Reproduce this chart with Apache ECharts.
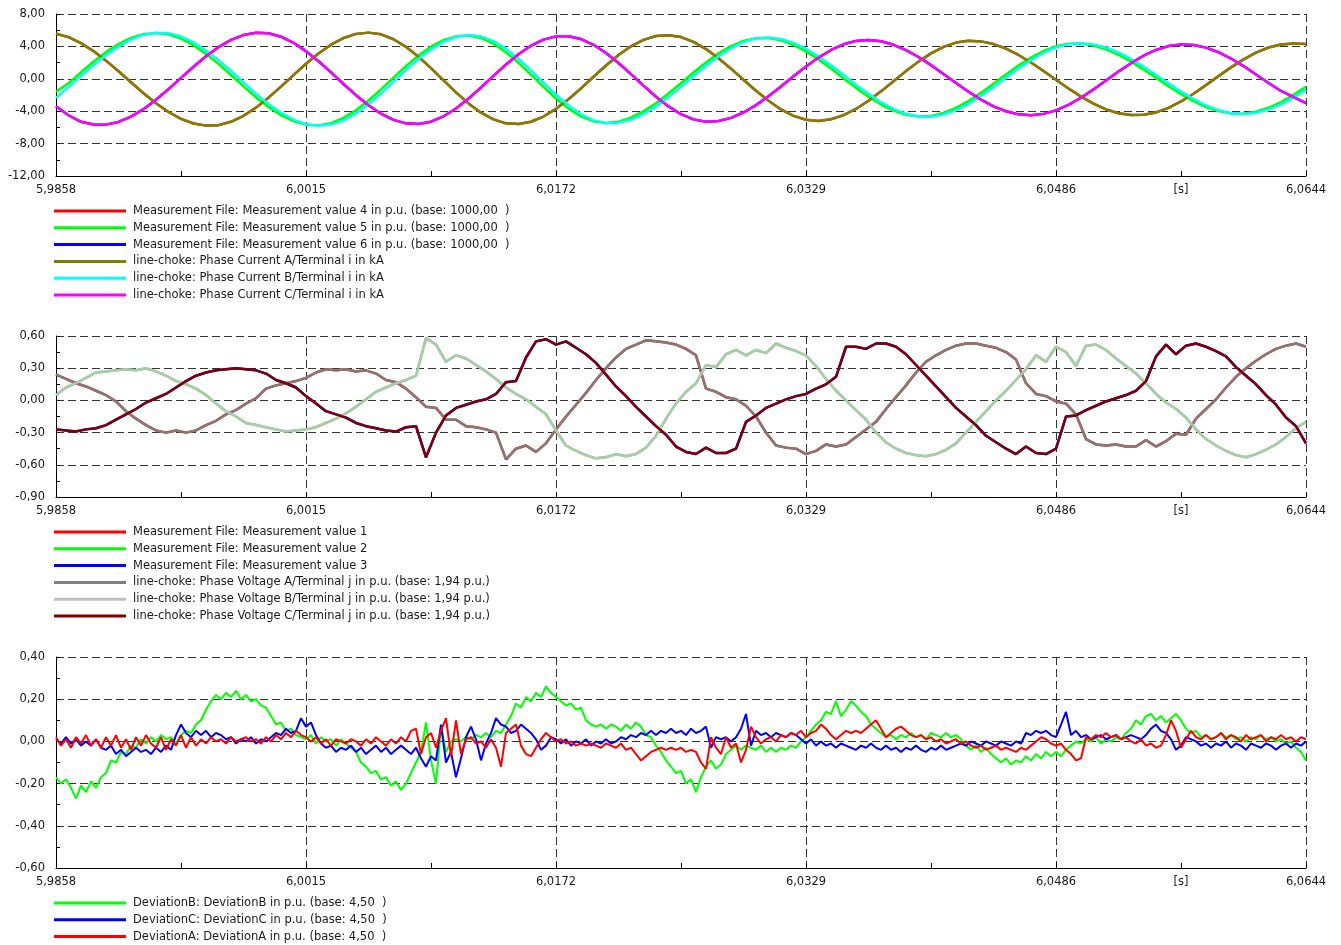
<!DOCTYPE html>
<html><head><meta charset="utf-8">
<script src="https://cdn.jsdelivr.net/npm/echarts@6/dist/echarts.min.js"></script>
<style>html,body{margin:0;padding:0;background:#fff}#c{width:1341px;height:945px}</style>
</head><body><div id="c"></div>
<script>
// ---------- tick labels ----------
const xTickLabels = ['5,9858','6,0015','6,0172','6,0329','6,0486','6,0644'];
const xUnitLabel = '[s]';

// ---------- top chart: currents (101 samples across the time span) ----------
const curA = [5.57,5.14,4.40,3.42,2.24,0.93,-0.43,-1.78,-3.01,-4.10,-4.95,-5.52,-5.78,-5.72,-5.31,-4.57,-3.56,-2.33,-0.96,0.46,
1.86,3.13,4.21,5.03,5.54,5.70,5.49,4.88,3.94,2.72,1.31,-0.19,-1.68,-3.04,-4.18,-5.01,-5.50,-5.59,-5.30,-4.66,
-3.71,-2.53,-1.18,0.25,1.64,2.93,4.01,4.81,5.28,5.39,5.15,4.56,3.67,2.54,1.25,-0.12,-1.47,-2.72,-3.78,-4.58,
-5.06,-5.20,-4.99,-4.49,-3.72,-2.71,-1.55,-0.30,0.95,2.12,3.14,3.94,4.47,4.69,4.62,4.29,3.72,2.94,2.01,0.97,
-0.12,-1.20,-2.20,-3.07,-3.77,-4.25,-4.48,-4.45,-4.15,-3.58,-2.80,-1.85,-0.78,0.33,1.41,2.40,3.24,3.86,4.24,4.35,4.30];
const curB = [-2.34,-1.03,0.33,1.68,2.92,3.98,4.85,5.42,5.68,5.62,5.22,4.50,3.50,2.31,0.96,-0.44,-1.83,-3.10,-4.19,-5.04,
-5.59,-5.80,-5.65,-5.13,-4.28,-3.15,-1.82,-0.37,1.08,2.45,3.64,4.56,5.16,5.40,5.24,4.66,3.72,2.47,1.05,-0.48,
-1.97,-3.30,-4.38,-5.13,-5.48,-5.43,-5.04,-4.35,-3.41,-2.26,-1.00,0.32,1.61,2.79,3.78,4.53,4.97,5.10,4.91,4.44,
3.71,2.77,1.67,0.49,-0.72,-1.86,-2.89,-3.72,-4.32,-4.65,-4.68,-4.41,-3.87,-3.09,-2.12,-1.03,0.13,1.27,2.31,3.19,
3.87,4.28,4.40,4.25,3.86,3.25,2.45,1.51,0.49,-0.56,-1.58,-2.50,-3.28,-3.87,-4.23,-4.35,-4.20,-3.80,-3.16,-2.32,-1.35];
const curC = [-3.40,-4.50,-5.31,-5.65,-5.66,-5.33,-4.67,-3.75,-2.59,-1.28,0.11,1.49,2.79,3.91,4.80,5.40,5.68,5.62,5.20,4.45,
3.42,2.17,0.79,-0.64,-2.02,-3.27,-4.31,-5.07,-5.50,-5.58,-5.29,-4.63,-3.66,-2.44,-1.07,0.37,1.77,3.04,4.09,4.84,
5.24,5.26,4.91,4.20,3.19,1.95,0.57,-0.85,-2.21,-3.41,-4.37,-5.01,-5.29,-5.21,-4.82,-4.16,-3.25,-2.16,-0.95,0.31,
1.52,2.62,3.56,4.26,4.68,4.80,4.63,4.20,3.54,2.69,1.69,0.60,-0.52,-1.60,-2.57,-3.40,-4.01,-4.39,-4.50,-4.33,
-3.90,-3.22,-2.34,-1.31,-0.21,0.90,1.93,2.85,3.56,4.04,4.25,4.18,3.85,3.28,2.50,1.57,0.54,-0.52,-1.50,-2.25,-3.00];
const meas4 = curA;
const meas5 = [-1.60,-0.55,0.80,2.11,3.29,4.28,5.05,5.51,5.66,5.48,4.97,4.15,3.08,1.84,0.47,-0.93,-2.27,-3.48,-4.49,-5.23,
-5.66,-5.75,-5.47,-4.83,-3.88,-2.68,-1.31,0.14,1.56,2.87,3.96,4.77,5.24,5.34,5.04,4.33,3.28,1.97,0.51,-1.00,
-2.44,-3.68,-4.64,-5.25,-5.46,-5.29,-4.80,-4.02,-3.01,-1.82,-0.54,0.77,2.02,3.14,4.04,4.68,5.02,5.03,4.75,4.18,
3.38,2.39,1.26,0.07,-1.12,-2.22,-3.18,-3.93,-4.44,-4.66,-4.59,-4.22,-3.60,-2.75,-1.74,-0.62,0.53,1.63,2.62,3.43,
4.01,4.32,4.35,4.11,3.65,2.97,2.12,1.15,0.12,-0.92,-1.90,-2.77,-3.49,-3.98,-4.27,-4.30,-4.06,-3.58,-2.87,-1.98,-1.00];
const meas6 = curC;

// ---------- middle chart: voltages (126 samples) ----------
const volA = [0.24,0.20,0.16,0.13,0.09,0.05,-0.01,-0.10,-0.17,-0.23,-0.28,-0.30,-0.28,-0.30,-0.28,-0.23,-0.19,-0.13,-0.09,-0.03,0.02,0.11,0.14,0.16,0.18,0.21,0.26,0.29,0.28,0.29,0.27,0.28,0.25,0.19,0.17,0.11,0.03,-0.06,-0.07,-0.18,-0.18,-0.24,-0.25,-0.27,-0.30,-0.55,-0.45,-0.42,-0.48,-0.40,-0.27,-0.15,-0.04,0.07,0.19,0.30,0.40,0.48,0.52,0.56,0.55,0.54,0.52,0.48,0.42,0.11,0.08,0.03,0.01,-0.05,-0.15,-0.30,-0.42,-0.44,-0.45,-0.50,-0.47,-0.41,-0.43,-0.41,-0.34,-0.27,-0.20,-0.08,0.03,0.14,0.26,0.36,0.42,0.47,0.51,0.53,0.53,0.51,0.49,0.45,0.38,0.16,0.06,0.04,-0.01,-0.03,-0.13,-0.36,-0.41,-0.42,-0.41,-0.43,-0.43,-0.37,-0.43,-0.38,-0.31,-0.32,-0.17,-0.08,0.01,0.12,0.22,0.30,0.37,0.43,0.48,0.51,0.53,0.50];
const volB = [0.05,0.12,0.16,0.21,0.26,0.27,0.28,0.29,0.28,0.30,0.27,0.23,0.18,0.15,0.11,0.05,-0.03,-0.10,-0.15,-0.21,-0.23,-0.25,-0.27,-0.29,-0.28,-0.27,-0.25,-0.21,-0.17,-0.12,-0.06,0.01,0.08,0.12,0.16,0.19,0.23,0.58,0.52,0.36,0.42,0.39,0.33,0.27,0.20,0.12,0.06,0.01,-0.06,-0.13,-0.28,-0.42,-0.47,-0.51,-0.54,-0.53,-0.50,-0.52,-0.50,-0.44,-0.33,-0.17,-0.03,0.08,0.16,0.33,0.31,0.43,0.47,0.42,0.47,0.44,0.53,0.49,0.46,0.42,0.32,0.20,0.09,0.00,-0.09,-0.18,-0.30,-0.39,-0.45,-0.49,-0.51,-0.52,-0.50,-0.46,-0.40,-0.30,-0.20,-0.10,0.00,0.09,0.19,0.29,0.42,0.36,0.50,0.45,0.32,0.51,0.52,0.47,0.39,0.32,0.25,0.16,0.06,-0.02,-0.08,-0.16,-0.27,-0.36,-0.42,-0.47,-0.51,-0.53,-0.50,-0.46,-0.41,-0.34,-0.26,-0.20];
const volC = [-0.27,-0.28,-0.29,-0.27,-0.26,-0.23,-0.18,-0.13,-0.08,-0.02,0.02,0.06,0.12,0.18,0.23,0.26,0.28,0.29,0.30,0.29,0.28,0.25,0.19,0.16,0.12,0.04,-0.03,-0.10,-0.13,-0.16,-0.21,-0.24,-0.26,-0.28,-0.29,-0.25,-0.24,-0.53,-0.30,-0.14,-0.07,-0.04,-0.01,0.01,0.06,0.17,0.18,0.40,0.55,0.57,0.52,0.55,0.49,0.43,0.35,0.24,0.13,0.04,-0.06,-0.15,-0.24,-0.32,-0.43,-0.48,-0.50,-0.44,-0.49,-0.49,-0.45,-0.20,-0.14,-0.07,-0.03,0.01,0.04,0.06,0.11,0.15,0.22,0.50,0.50,0.48,0.53,0.53,0.50,0.43,0.33,0.23,0.13,0.03,-0.07,-0.15,-0.23,-0.33,-0.39,-0.45,-0.50,-0.43,-0.49,-0.50,-0.45,-0.15,-0.14,-0.09,-0.05,-0.01,0.02,0.05,0.09,0.18,0.41,0.52,0.43,0.51,0.53,0.50,0.46,0.41,0.31,0.23,0.15,0.05,-0.04,-0.16,-0.24,-0.40];
const meas1 = volA, meas2 = volB, meas3 = volC;

// ---------- bottom chart: deviations (251 samples) ----------
const devB = [-0.17,-0.20,-0.18,-0.22,-0.27,-0.21,-0.24,-0.19,-0.22,-0.17,
-0.15,-0.09,-0.10,-0.05,-0.06,-0.02,-0.03,0.01,-0.01,0.02,
0.00,0.03,0.01,0.02,-0.01,0.03,0.05,0.04,0.08,0.10,
0.15,0.19,0.22,0.20,0.23,0.21,0.24,0.20,0.22,0.19,
0.20,0.17,0.16,0.12,0.08,0.09,0.05,0.06,0.03,0.02,
0.01,0.03,-0.01,0.02,0.00,0.01,-0.02,0.01,-0.01,-0.03,
-0.05,-0.10,-0.12,-0.15,-0.14,-0.18,-0.17,-0.21,-0.19,-0.23,
-0.20,-0.15,-0.10,-0.05,0.09,-0.09,-0.20,0.07,-0.05,0.00,
0.01,0.00,0.02,0.01,0.03,0.02,0.04,0.02,0.05,0.04,
0.08,0.12,0.18,0.16,0.21,0.19,0.23,0.21,0.26,0.23,
0.21,0.19,0.17,0.18,0.15,0.16,0.10,0.08,0.07,0.08,
0.06,0.08,0.07,0.05,0.08,0.06,0.09,0.07,0.03,0.02,
-0.02,-0.05,-0.09,-0.12,-0.15,-0.14,-0.20,-0.18,-0.24,-0.17,
-0.12,-0.09,-0.13,-0.11,-0.06,-0.04,-0.02,-0.04,-0.02,-0.03,
-0.04,-0.02,-0.05,-0.03,-0.05,-0.03,-0.04,-0.02,-0.03,0.00,
0.02,0.05,0.08,0.10,0.14,0.13,0.19,0.12,0.15,0.19,
0.17,0.14,0.12,0.08,0.06,0.04,0.02,0.03,0.01,0.03,
0.02,0.04,0.02,0.03,0.01,0.04,0.03,0.02,0.04,0.02,
0.03,0.01,-0.02,-0.04,-0.02,-0.05,-0.03,-0.06,-0.08,-0.10,
-0.08,-0.11,-0.09,-0.10,-0.07,-0.09,-0.06,-0.08,-0.05,-0.07,
-0.05,-0.07,-0.04,-0.02,0.00,-0.01,0.01,0.00,0.02,-0.01,
0.01,0.00,0.02,0.01,0.04,0.06,0.10,0.08,0.12,0.13,
0.10,0.12,0.09,0.11,0.13,0.10,0.06,0.04,0.05,0.02,
0.03,0.01,0.02,0.04,0.02,0.03,0.01,0.02,0.00,0.02,
0.01,0.03,0.01,0.02,0.00,0.01,-0.01,0.00,-0.03,-0.05,
-0.09];
const devC = [0.01,-0.01,0.02,-0.01,0.01,-0.02,0.00,-0.02,0.01,-0.03,
-0.04,-0.02,-0.06,-0.04,-0.07,-0.05,-0.03,-0.05,-0.04,-0.06,
-0.03,-0.05,-0.02,-0.04,0.03,0.08,0.04,0.02,0.05,0.03,
0.05,0.02,0.04,0.03,0.01,0.02,-0.01,0.01,0.00,0.02,
-0.01,0.01,0.00,0.02,0.04,0.03,0.06,0.04,0.05,0.11,
0.07,0.09,0.03,-0.01,-0.03,-0.02,-0.05,-0.03,-0.04,-0.02,
-0.05,-0.03,-0.06,-0.04,-0.02,-0.05,-0.03,-0.06,-0.04,-0.02,
-0.04,-0.06,-0.03,-0.08,-0.12,-0.07,-0.09,0.08,-0.10,-0.05,
-0.17,-0.08,0.02,0.07,0.01,-0.09,-0.01,0.04,0.11,0.08,
0.07,0.04,0.05,0.08,0.06,0.04,0.01,-0.04,-0.02,0.02,
0.01,-0.01,0.01,-0.02,0.00,-0.01,0.01,-0.02,0.00,-0.01,
0.01,-0.01,0.00,0.02,0.01,0.03,0.02,0.04,0.03,0.05,
0.03,0.05,0.04,0.06,0.04,0.05,0.03,0.06,0.04,0.05,
0.07,-0.03,0.02,0.01,0.02,0.00,0.02,0.06,0.13,-0.02,
0.05,0.03,0.04,0.02,0.04,0.03,0.02,0.04,0.03,0.01,
-0.01,0.01,-0.02,0.00,-0.02,-0.01,-0.03,-0.01,-0.02,-0.03,
-0.04,-0.02,-0.03,-0.01,-0.03,-0.04,-0.02,-0.04,-0.03,-0.05,
-0.03,-0.04,-0.02,-0.04,-0.05,-0.03,-0.04,-0.02,-0.04,-0.03,
-0.02,-0.01,-0.02,0.00,-0.01,-0.02,0.00,-0.01,-0.02,0.00,
-0.01,-0.02,0.00,-0.01,0.04,0.03,0.05,0.04,0.05,0.03,
0.02,0.08,0.14,0.03,0.05,0.02,0.03,0.01,0.02,0.03,
0.01,0.02,0.03,0.01,0.02,0.03,0.02,0.01,0.03,0.06,
0.08,0.05,0.04,0.01,-0.04,-0.02,0.02,0.01,0.00,-0.02,
-0.01,-0.03,-0.01,-0.02,0.00,-0.03,-0.01,-0.02,-0.04,-0.01,
-0.02,-0.03,-0.01,-0.02,-0.04,-0.02,-0.01,-0.03,-0.01,-0.02,
0.00];
const devA = [0.02,-0.02,0.01,-0.03,0.02,-0.01,0.03,-0.02,0.01,-0.03,
0.02,-0.02,0.03,-0.03,0.01,-0.04,0.02,-0.02,0.03,-0.01,
-0.03,0.02,-0.04,0.01,-0.02,0.03,-0.03,0.02,-0.02,0.01,
-0.01,0.02,0.00,0.01,-0.01,0.02,0.00,0.01,0.02,0.00,
0.01,-0.01,0.02,0.00,0.03,0.01,0.04,0.02,0.05,0.03,
0.02,0.00,0.02,-0.01,0.01,-0.02,0.01,0.00,-0.01,0.01,
0.00,-0.02,0.01,-0.01,0.02,0.00,-0.02,0.01,-0.01,0.02,
0.00,0.05,0.06,-0.06,0.02,0.04,-0.03,0.05,0.11,-0.07,
0.10,-0.06,0.01,0.02,-0.01,0.00,-0.03,0.01,-0.03,-0.12,
0.04,0.06,0.08,-0.02,-0.06,-0.07,-0.03,0.01,0.04,0.02,
0.00,0.01,-0.01,0.00,-0.02,-0.01,-0.02,-0.01,-0.02,-0.03,
-0.01,-0.02,-0.03,-0.01,-0.04,-0.03,-0.06,-0.09,-0.07,-0.05,
-0.04,-0.03,-0.04,-0.03,-0.04,-0.03,-0.05,-0.04,-0.05,-0.10,
-0.13,0.02,-0.03,-0.06,0.02,-0.03,-0.01,-0.10,-0.04,0.07,
0.02,-0.01,0.01,0.02,0.00,0.03,0.02,0.04,0.03,0.05,
0.02,0.04,0.05,0.08,0.06,0.03,0.01,0.03,0.05,0.04,
0.05,0.04,0.06,0.08,0.10,0.06,0.02,0.04,0.06,0.07,
0.05,0.03,0.02,0.03,0.01,0.02,0.00,0.01,-0.01,0.00,
0.01,-0.01,0.00,-0.02,-0.03,-0.02,-0.04,-0.03,-0.02,-0.04,
-0.03,-0.04,-0.05,-0.03,-0.04,-0.02,0.00,0.02,0.01,-0.01,
-0.02,-0.01,-0.04,-0.06,-0.09,-0.08,0.02,0.01,0.03,0.02,
0.04,0.02,0.03,0.01,0.02,0.00,-0.01,0.01,-0.02,-0.01,
-0.03,-0.02,0.03,0.10,0.05,-0.03,0.01,0.05,0.02,0.01,
0.03,0.01,0.02,0.04,0.01,0.03,0.02,0.00,0.03,0.01,
0.02,0.03,0.00,0.02,0.01,0.03,0.01,0.02,0.00,0.02,
0.01];

// ---------- names ----------
const topNames = [
  'Measurement File: Measurement value 4 in p.u. (base: 1000,00  )',
  'Measurement File: Measurement value 5 in p.u. (base: 1000,00  )',
  'Measurement File: Measurement value 6 in p.u. (base: 1000,00  )',
  'line-choke: Phase Current A/Terminal i in kA',
  'line-choke: Phase Current B/Terminal i in kA',
  'line-choke: Phase Current C/Terminal i in kA'];
const midNames = [
  'Measurement File: Measurement value 1',
  'Measurement File: Measurement value 2',
  'Measurement File: Measurement value 3',
  'line-choke: Phase Voltage A/Terminal j in p.u. (base: 1,94 p.u.)',
  'line-choke: Phase Voltage B/Terminal j in p.u. (base: 1,94 p.u.)',
  'line-choke: Phase Voltage C/Terminal j in p.u. (base: 1,94 p.u.)'];
const botNames = [
  'DeviationB: DeviationB in p.u. (base: 4,50  )',
  'DeviationC: DeviationC in p.u. (base: 4,50  )',
  'DeviationA: DeviationA in p.u. (base: 4,50  )'];

// ---------- chart ----------
const FONT = "'DejaVu Sans', sans-serif";
const TXT = '#1a1a1a';
const grids = [
  {left:56, top:14, width:1250, height:162},
  {left:56, top:336, width:1250, height:161},
  {left:56, top:657, width:1250, height:211}];
const yRanges = [[-12,8,4],[-0.9,0.6,0.3],[-0.6,0.4,0.2]];
const dash = {type:[8,4], color:'#333333', width:1};
function fmt2(v){ if (Math.abs(v) < 1e-9) v = 0; return v.toFixed(2).replace('.', ','); }
const xAxes = [], yAxes = [];
grids.forEach((g, i) => {
  xAxes.push({type:'value', gridIndex:i, position:'bottom', min:0, max:10, interval:2,
    axisLine:{show:true, onZero:false, lineStyle:{color:'#000', width:1}},
    axisTick:{show:true, inside:true, length:5, lineStyle:{color:'#000'}},
    minorTick:{show:true, splitNumber:2, length:5, lineStyle:{color:'#000'}},
    axisLabel:{formatter:v => xTickLabels[Math.round(v/2)] || '', color:TXT, fontFamily:FONT, fontSize:11.5, margin:8},
    splitLine:{show:true, lineStyle:dash}});
  xAxes.push({type:'value', gridIndex:i, position:'bottom', min:0, max:10, interval:1,
    axisLine:{show:false, onZero:false}, axisTick:{show:false}, splitLine:{show:false},
    axisLabel:{formatter:v => Math.round(v) === 9 ? xUnitLabel : '', color:TXT, fontFamily:FONT, fontSize:11.5, margin:8}});
  const r = yRanges[i];
  yAxes.push({type:'value', gridIndex:i, min:r[0], max:r[1], interval:r[2],
    axisLine:{show:true, lineStyle:{color:'#000', width:1}},
    axisTick:{show:true, inside:true, length:4, lineStyle:{color:'#000'}},
    minorTick:{show:true, splitNumber:2, length:4, lineStyle:{color:'#000'}},
    axisLabel:{formatter:fmt2, color:TXT, fontFamily:FONT, fontSize:11.5, margin:11},
    splitLine:{show:true, lineStyle:dash}});
});
function line(name, vals, step, color, width, grid, opacity){
  return {name, type:'line', xAxisIndex:grid*2, yAxisIndex:grid,
    data: vals.map((v, i) => [+(i*step).toFixed(5), v]),
    symbol:'none', showSymbol:false, animation:false,
    lineStyle:{color, width, opacity: opacity == null ? 1 : opacity}, itemStyle:{color}, emphasis:{disabled:true}};
}
const series = [
  line(topNames[0], meas4, 0.1, '#ff0000', 2.5, 0),
  line(topNames[1], meas5, 0.1, '#00ff00', 2.5, 0),
  line(topNames[2], meas6, 0.1, '#0000ff', 2.5, 0),
  line(topNames[3], curA, 0.1, '#808000', 2.5, 0),
  line(topNames[4], curB, 0.1, '#00ffff', 2.5, 0),
  line(topNames[5], curC, 0.1, '#ff00ff', 2.5, 0),
  line(midNames[0], meas1, 0.08, '#ff0000', 2.5, 1),
  line(midNames[1], meas2, 0.08, '#00ff00', 2.5, 1),
  line(midNames[2], meas3, 0.08, '#0000ff', 2.5, 1),
  line(midNames[3], volA, 0.08, '#808080', 2.5, 1, 0.94),
  line(midNames[4], volB, 0.08, '#c0c0c0', 2.5, 1, 0.95),
  line(midNames[5], volC, 0.08, '#800000', 2.5, 1, 1),
  line(botNames[0], devB, 0.04, '#00ff00', 2, 2),
  line(botNames[1], devC, 0.04, '#0000ff', 2, 2),
  line(botNames[2], devA, 0.04, '#ff0000', 2, 2)
];
const legendCommon = {orient:'vertical', left:54, padding:0, icon:'rect', itemWidth:72, itemHeight:3, itemGap:2.8,
  selectedMode:false, textStyle:{fontFamily:FONT, fontSize:11.5, color:TXT, lineHeight:14, padding:[0,0,0,2]}};
const chart = echarts.init(document.getElementById('c'));
chart.setOption({
  animation:false,
  backgroundColor:'#ffffff',
  grid: grids,
  xAxis: xAxes,
  yAxis: yAxes,
  legend: [
    Object.assign({data:topNames, top:204}, legendCommon),
    Object.assign({data:midNames, top:525}, legendCommon),
    Object.assign({data:botNames, top:896}, legendCommon)],
  series: series
});
</script></body></html>
